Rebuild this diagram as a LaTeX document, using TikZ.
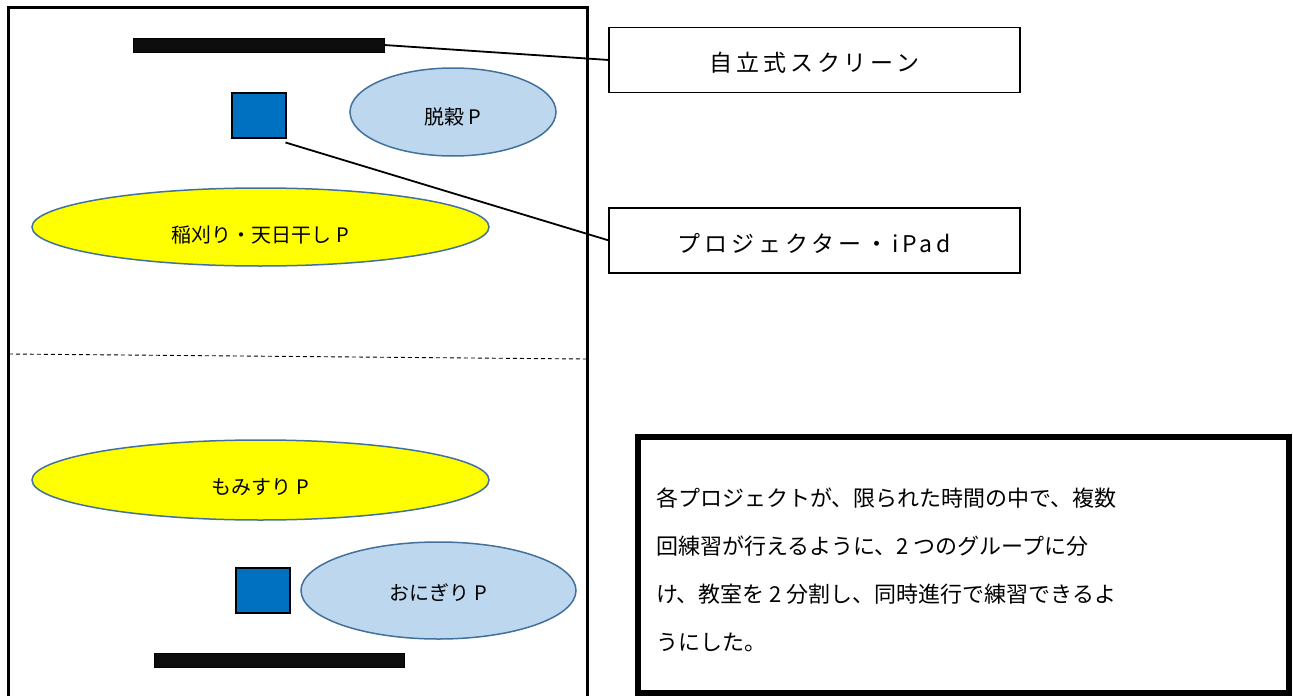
\documentclass[tikz,border=0pt]{standalone}
\usepackage{fontspec}
\setmainfont{Noto Sans CJK JP}
\usetikzlibrary{shapes.geometric}
\definecolor{bluesq}{HTML}{0070C0}
\definecolor{lightblue}{HTML}{BDD7EE}
\definecolor{edgeblue}{HTML}{41719C}
\definecolor{ylw}{HTML}{FFFF00}
\begin{document}
\begin{tikzpicture}[x=1pt,y=-1pt,
  every node/.style={inner sep=0pt,outer sep=0pt},
  screenbar/.style={draw=black,fill=black!95,line width=0.8pt,minimum height=14pt},
  projsq/.style={draw=black,fill=bluesq,line width=2pt,minimum width=54pt,minimum height=45pt},
  ellip/.style={ellipse,draw=edgeblue,line width=1.5pt},
  elltext/.style={font=\fontsize{20}{22}\selectfont},
  labelbox/.style={draw=black,line width=1.8pt,minimum width=411pt,minimum height=65pt},
  labeltext/.style={font=\fontsize{23}{25}\selectfont\addfontfeature{LetterSpace=17}},
  conn/.style={draw=black,line width=1.8pt}
]
\useasboundingbox (0,0) rectangle (1293,696);
\fill[white] (0,0) rectangle (1293,696);
% room
\draw[line width=3pt] (8,697) -- (8,7) -- (587,7) -- (587,697);
\coordinate (dl) at (9,354);
\coordinate (dr) at (586,359);
\draw[dashed,line width=0.9pt,dash pattern=on 4pt off 3pt] (dl) -- (dr);
% top half
\node[screenbar,minimum width=251pt] (scr1) at (258.5,45) {};
\node[projsq] (sq1) at (258.5,115) {};
\node[ellip,fill=lightblue,minimum width=206pt,minimum height=88pt] (dakkoku) at (453,112) {};
\node[elltext] (dakkokut) at ([yshift=-5pt]dakkoku.center) {脱穀 P};
\node[ellip,fill=ylw,minimum width=457pt,minimum height=78pt] (inekari) at (260.5,227) {};
\node[elltext] (inekarit) at ([yshift=-8pt]inekari.center) {稲刈り・天日干し P};
% bottom half
\node[ellip,fill=ylw,minimum width=457pt,minimum height=80pt] (momisuri) at (260.5,480) {};
\node[elltext] (momisurit) at ([yshift=-7pt]momisuri.center) {もみすり P};
\node[projsq] (sq2) at (263,590) {};
\node[ellip,fill=lightblue,minimum width=275pt,minimum height=97pt] (onigiri) at (438.5,590.5) {};
\node[elltext] (onigirit) at ([yshift=-2pt]onigiri.center) {おにぎり P};
\node[screenbar,minimum width=250pt] (scr2) at (279,660) {};
% labels
\node[labelbox] (lab1) at (814.5,60) {};
\node[labeltext] (lab1t) at ([yshift=-3pt]lab1.center) {自立式スクリーン};
\node[labelbox] (lab2) at (814.5,240.5) {};
\node[labeltext] (lab2t) at ([yshift=-3pt]lab2.center) {プロジェクター・iPad};
\draw[conn] (scr1.east) -- (lab1.west);
\draw[conn] ([yshift=-5pt]sq1.south east) -- (lab2.west);
% note box
\node[draw=black,line width=6pt,minimum width=651pt,minimum height=256pt] (note) at (963.5,565) {};
\node[anchor=north west,align=left,font=\fontsize{22}{47.8}\selectfont] (notetext) at (656,488)
 {各プロジェクトが、限られた時間の中で、複数\\回練習が行えるように、2 つのグループに分\\け、教室を 2 分割し、同時進行で練習できるよ\\うにした。};
\end{tikzpicture}
\end{document}
